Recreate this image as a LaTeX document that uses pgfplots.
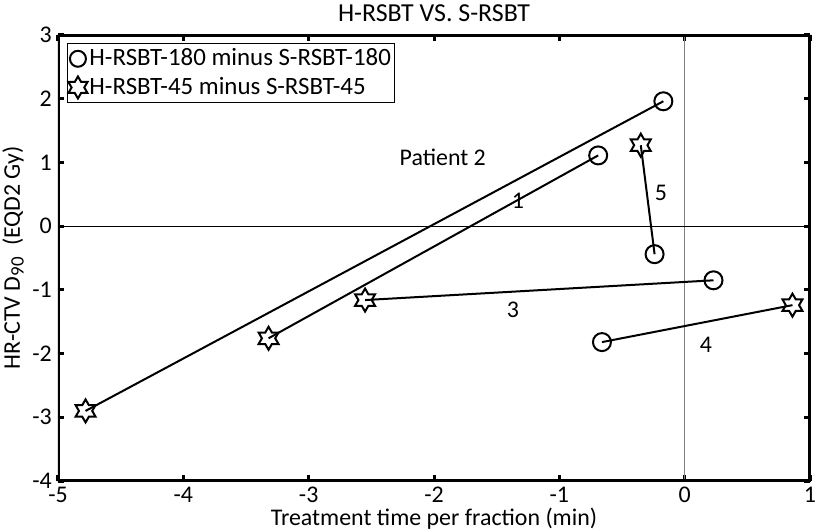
\documentclass[border=0pt]{standalone}
\usepackage{fontspec}
\setmainfont{Carlito}
\usepackage{pgfplots}
\pgfplotsset{compat=1.18}
\pgfdeclareplotmark{hexstar}{%
  \pgfpathmoveto{\pgfpointpolar{90}{\pgfplotmarksize}}%
  \pgfpathlineto{\pgfpointpolar{120}{0.577\pgfplotmarksize}}%
  \pgfpathlineto{\pgfpointpolar{150}{\pgfplotmarksize}}%
  \pgfpathlineto{\pgfpointpolar{180}{0.577\pgfplotmarksize}}%
  \pgfpathlineto{\pgfpointpolar{210}{\pgfplotmarksize}}%
  \pgfpathlineto{\pgfpointpolar{240}{0.577\pgfplotmarksize}}%
  \pgfpathlineto{\pgfpointpolar{270}{\pgfplotmarksize}}%
  \pgfpathlineto{\pgfpointpolar{300}{0.577\pgfplotmarksize}}%
  \pgfpathlineto{\pgfpointpolar{330}{\pgfplotmarksize}}%
  \pgfpathlineto{\pgfpointpolar{0}{0.577\pgfplotmarksize}}%
  \pgfpathlineto{\pgfpointpolar{30}{\pgfplotmarksize}}%
  \pgfpathlineto{\pgfpointpolar{60}{0.577\pgfplotmarksize}}%
  \pgfpathclose
  \pgfusepathqstroke
}
\begin{document}
\fontsize{24}{28}\selectfont
\begin{tikzpicture}
\begin{axis}[
  scale only axis,
  width=752bp, height=446bp,
  xmin=-5, xmax=1, ymin=-4, ymax=3,
  xtick={-5,-4,...,1}, ytick={-4,-3,...,3},
  tick style={line width=3bp, black},
  major tick length=6bp,
  tick align=inside,
  /pgf/number format/assume math mode=true,
  tick label style={font=\fontsize{24}{28}\selectfont},
  xticklabel style={yshift=2bp},
  yticklabel style={xshift=2bp},
  title={H-RSBT VS. S-RSBT},
  title style={at={(0.5,1)}, anchor=base, yshift=8bp, font=\fontsize{26}{30}\selectfont},
  xlabel={Treatment time per fraction (min)},
  xlabel style={at={(0.5,0)}, anchor=base, yshift=-44bp, font=\fontsize{24}{28}\selectfont},
  ylabel={HR-CTV D\textsubscript{\fontsize{19}{22}\selectfont 90}\ \ (EQD2 Gy)},
  ylabel style={at={(0,0.5)}, anchor=center, yshift=45bp, font=\fontsize{24}{28}\selectfont},
  legend style={at={(0.012,0.982)}, anchor=north west, draw=black, line width=0.8bp,
    font=\fontsize{25}{29}\selectfont, inner xsep=1bp, inner ysep=3bp,
    row sep=4bp, legend cell align=left},
  legend image code/.code={\draw[#1] plot coordinates {(0.5em,0cm)};},
]
\addlegendimage{only marks, mark=o, mark size=8bp, line width=2bp, black}
\addlegendentry{H-RSBT-180 minus S-RSBT-180}
\addlegendimage{only marks, mark=hexstar, mark size=11bp, line width=2bp, black}
\addlegendentry{H-RSBT-45 minus S-RSBT-45}
% zero lines
\addplot[gray, line width=1.3bp, forget plot] coordinates {(0,-4) (0,3)};
\addplot[black, line width=0.8bp, forget plot] coordinates {(-5,0) (1,0)};
% patient segments
\addplot[black, line width=2bp, forget plot] coordinates {(-4.78,-2.90) (-0.17,1.96)};
\addplot[black, line width=2bp, forget plot] coordinates {(-3.32,-1.76) (-0.69,1.11)};
\addplot[black, line width=2bp, forget plot] coordinates {(-2.55,-1.16) (0.23,-0.85)};
\addplot[black, line width=2bp, forget plot] coordinates {(-0.66,-1.82) (0.86,-1.24)};
\addplot[black, line width=2bp, forget plot] coordinates {(-0.35,1.27) (-0.24,-0.44)};
% circles (H-RSBT-180 minus S-RSBT-180)
\addplot[only marks, mark=o, mark size=9bp, line width=2bp, black, forget plot] coordinates {
(-0.17,1.96) (-0.69,1.11) (0.23,-0.85) (-0.66,-1.82) (-0.24,-0.44)};
% stars (H-RSBT-45 minus S-RSBT-45)
\addplot[only marks, mark=hexstar, mark size=11.5bp, line width=2bp, black, forget plot] coordinates {
(-4.78,-2.90) (-3.32,-1.76) (-2.55,-1.16) (0.86,-1.24) (-0.35,1.27)};
\node[font=\fontsize{24}{28}\selectfont] at (axis cs:-1.93,1.08) {Patient 2};
\node[font=\fontsize{24}{28}\selectfont] at (axis cs:-1.33,0.39) {1};
\node[font=\fontsize{24}{28}\selectfont] at (axis cs:-0.19,0.52) {5};
\node[font=\fontsize{24}{28}\selectfont] at (axis cs:-1.37,-1.32) {3};
\node[font=\fontsize{24}{28}\selectfont] at (axis cs:0.17,-1.87) {4};
\draw[line width=3.2bp, line join=miter] (rel axis cs:0,0) rectangle (rel axis cs:1,1);
\end{axis}
\pgfresetboundingbox
\path (current axis.south west) ++(-58bp,-51bp) coordinate (bl);
\path (current axis.north east) ++(9bp,35bp) coordinate (tr);
\path[use as bounding box] (bl) rectangle (tr);
\end{tikzpicture}
\end{document}
